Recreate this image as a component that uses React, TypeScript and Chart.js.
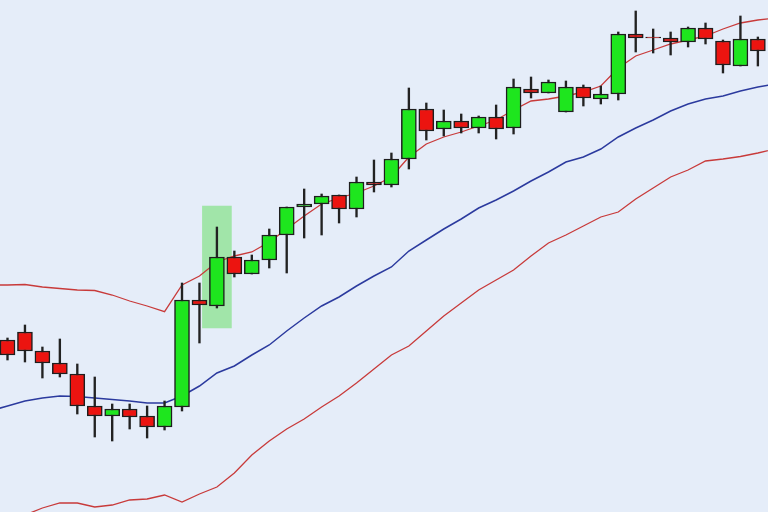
import React, { useEffect, useRef } from "react";
import { Chart, registerables } from "chart.js";

Chart.register(...registerables);

// Candle data (arbitrary price units), candles indexed 0..43
const opens = [172, 180, 161, 149, 138, 106, 96, 103, 96, 85, 105, 212, 206, 255, 238, 252, 277, 305, 308, 317, 303, 330, 327, 353, 403, 383, 391, 384, 395, 384, 423, 419, 400, 425, 413, 418, 478, 475, 474, 470, 484, 471, 446, 473];
const highs = [174, 187, 165, 173, 148, 135, 108, 108, 106, 111, 229, 229, 285, 261, 257, 283, 305, 323, 318, 317, 335, 352, 359, 424, 409, 402, 398, 396, 407, 433, 435, 432, 431, 427, 426, 480, 501, 483, 480, 485, 489, 472, 496, 475];
const lows = [152, 150, 134, 135, 98, 75, 71, 83, 74, 82, 101, 169, 204, 235, 238, 244, 239, 274, 277, 289, 295, 320, 325, 343, 372, 376, 379, 379, 373, 378, 414, 419, 400, 406, 408, 412, 460, 459, 457, 465, 468, 439, 446, 446];
const closes = [157, 161, 149, 138, 106, 96, 103, 95, 85, 106, 212, 207, 255, 238, 252, 277, 305, 308, 316, 303, 330, 327, 353, 403, 381, 391, 384, 395, 383, 425, 419, 430, 425, 414, 418, 478, 474, 474, 470, 484, 473, 447, 473, 461];

// Bollinger bands, sampled at candle positions -1..44
const bandStart = -1;
const upperBand = [227, 227, 227.5, 225, 223.5, 222, 221.5, 217, 211, 206, 200.3, 227, 236, 250, 256, 260, 270, 283, 296, 308, 314, 319, 326, 335, 355, 368, 375, 380, 386, 392, 402, 411, 413, 416, 420, 426, 444, 456, 462, 468, 472, 476, 483, 489, 492, 494];
const middleBand = [101, 106, 111, 114, 116, 115.5, 114, 112.5, 111, 109, 109, 116, 126, 139, 146, 157, 167, 181, 194, 206, 215, 226, 236, 245, 261, 272, 283, 293, 304, 312, 321, 331, 340, 350, 355, 363, 375, 384, 392, 401, 408, 413, 416, 421, 425, 428];
const lowerBand = [-13, -8, -3, 4, 9, 9, 5, 7, 12, 13, 17, 10, 18, 25, 39, 57, 71, 83, 93, 105, 116, 129, 143, 157, 166, 181, 196, 209, 222, 232, 242, 256, 269, 277, 286, 295, 300, 313, 324, 335, 342, 351, 353, 355.5, 359, 363];

// Highlighted candle zone
const highlightIndex = 12;
const highlightRange = [184, 306];

const RED = "#ec1410";
const GREEN = "#1ee61e";
const EDGE = "#1e1e1e";

export default function App() {
  const ref = useRef<HTMLCanvasElement | null>(null);

  useEffect(() => {
    if (!ref.current) return;
    const idx = opens.map((_, i) => i);
    const bodies = idx.map((i) => ({ x: i, y: [opens[i], closes[i]] }));
    const wicks = idx.map((i) => ({ x: i, y: [lows[i], highs[i]] }));
    const bodyColors = idx.map((i) => (closes[i] > opens[i] ? GREEN : RED));
    const band = (arr: number[]) => arr.map((v, k) => ({ x: k + bandStart, y: v }));

    const chart = new Chart(ref.current, {
      type: "bar",
      data: {
        datasets: [
          {
            type: "bar",
            data: bodies as any,
            backgroundColor: bodyColors,
            borderColor: EDGE,
            borderWidth: 1.5,
            borderSkipped: false,
            barThickness: 15,
            grouped: false,
            order: 1,
          } as any,
          {
            type: "bar",
            data: wicks as any,
            backgroundColor: "#222222",
            borderWidth: 0,
            barThickness: 1.7,
            grouped: false,
            order: 2,
          } as any,
          {
            type: "line",
            data: band(upperBand),
            borderColor: "#c83a3a",
            borderWidth: 1.3,
            pointRadius: 0,
            tension: 0,
            order: 3,
          },
          {
            type: "line",
            data: band(middleBand),
            borderColor: "#2b3a9e",
            borderWidth: 1.5,
            pointRadius: 0,
            tension: 0,
            order: 3,
          },
          {
            type: "line",
            data: band(lowerBand),
            borderColor: "#c83a3a",
            borderWidth: 1.3,
            pointRadius: 0,
            tension: 0,
            order: 3,
          },
          {
            type: "bar",
            data: [{ x: highlightIndex, y: highlightRange }] as any,
            backgroundColor: "rgba(120, 225, 120, 0.62)",
            borderWidth: 0,
            barThickness: 29,
            grouped: false,
            order: 5,
          } as any,
        ],
      },
      options: {
        responsive: false,
        animation: false,
        events: [],
        layout: { padding: 0 },
        plugins: { legend: { display: false }, tooltip: { enabled: false } },
        scales: {
          x: {
            type: "linear",
            display: false,
            offset: false,
            min: -0.43,
            max: 43.58,
          },
          y: {
            type: "linear",
            display: false,
            min: 0,
            max: 512,
          },
        },
      },
    });
    return () => chart.destroy();
  }, []);

  return (
    <div style={{ position: "absolute", left: 0, top: 0, width: 768, height: 512, background: "#e5edf9" }}>
      <canvas ref={ref} width={768} height={512} style={{ display: "block" }} />
    </div>
  );
}
